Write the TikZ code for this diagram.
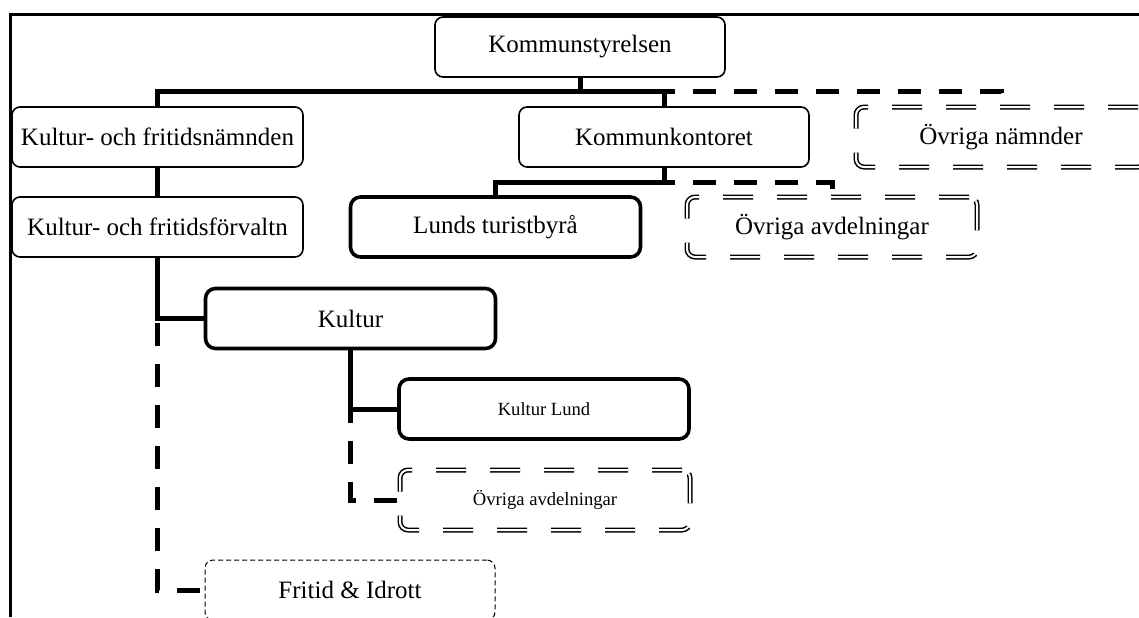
\documentclass[tikz,border=0pt]{standalone}
\usepackage{fontspec}
\setmainfont{Liberation Serif}
\usepackage{tikz}
\usetikzlibrary{positioning}

\tikzset{
  box/.style={draw, rounded corners=4pt, fill=white, line width=0.8pt,
    minimum width=145pt, minimum height=30pt, inner sep=0pt,
    font=\fontsize{12.5}{15}\selectfont},
  boldbox/.style={box, rounded corners=5pt, line width=1.8pt},
  dashbox/.style={box, line width=0.5pt, dash pattern=on 2.5pt off 1.5pt},
  dblbox/.style={box, double, double distance=1pt, line width=0.75pt,
    dash pattern=on 15pt off 12pt},
  small/.style={font=\fontsize{9.3}{11}\selectfont},
  link/.style={line width=2.5pt},
  dlink/.style={line width=2.5pt, dash pattern=on 11.5pt off 9pt},
}

\begin{document}
\begin{tikzpicture}[x=0.5pt,y=-0.5pt]
  \useasboundingbox (0,0) rectangle (1139,617);
  %Frame
  \draw[line width=1.5pt] (10.5,617) -- (10.5,14) -- (1139,14);
  %Rows
  \coordinate (bus) at (0,91);
  \coordinate (bus2) at (0,182);
  %Boxes
  \node[box] (ks) at (580,47) {Kommunstyrelsen};
  \node[box, minimum width=145.5pt] (kfn) at (157.5,137) {Kultur- och fritidsnämnden};
  \node[box, minimum width=145.5pt] (kff) at (157.5,227) {Kultur- och fritidsförvaltn};
  \node[box] (kk) at (664,137) {Kommunkontoret};
  \node[dblbox] (ovn) at (1001,137) {Övriga nämnder};
  \node[boldbox] (lt) at (495.5,227) {Lunds turistbyrå};
  \node[dblbox] (ova) at (832,227) {Övriga avdelningar};
  \node[boldbox] (kul) at (350.5,318.5) {Kultur};
  \node[boldbox, small] (kl) at (544,409) {Kultur Lund};
  \node[dblbox, small] (ova2) at (545,500) {Övriga avdelningar};
  \node[dashbox] (fi) at (350,590) {Fritid \& Idrott};
  %Top level
  \draw[link] (ks.south) -- (ks.south |- bus);
  \draw[link] (kfn.north) |- (kk.north |- bus) -- (kk.north);
  \draw[dlink, dash phase=6pt] (kk.north |- bus) -| (ovn.north);
  %Kommunkontoret
  \draw[link] (kk.south) |- (lt.north |- bus2) -- (lt.north);
  \draw[dlink, dash phase=6pt] (kk.south |- bus2) -| (ova.north);
  %Kultur- och fritid
  \draw[link] (kfn.south) -- (kff.north);
  \draw[link] (kff.south) |- (kul.west);
  \draw[dlink, dash phase=8.5pt] (kff.south) |- (fi.west);
  %Kultur
  \draw[link] (kul.south) |- (kl.west);
  \draw[dlink, dash phase=16pt] (kul.south) |- (ova2.west);
\end{tikzpicture}
\end{document}
